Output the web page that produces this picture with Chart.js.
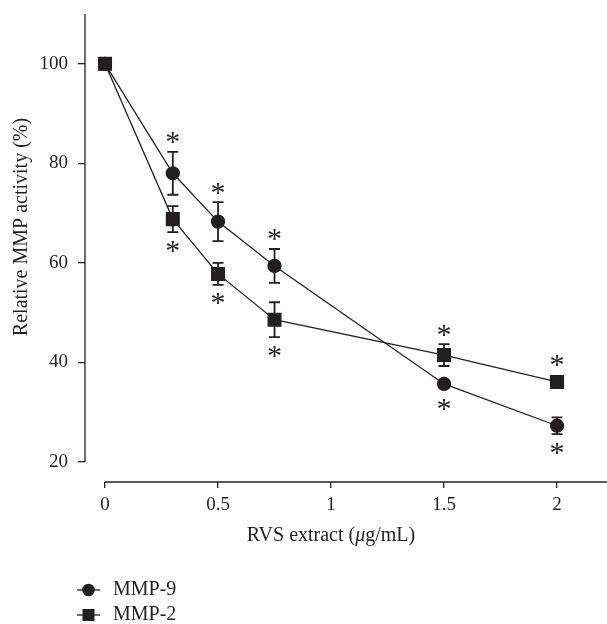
<!DOCTYPE html>
<html>
<head>
<meta charset="utf-8">
<script src="https://cdn.jsdelivr.net/npm/chart.js@4.4.1/dist/chart.umd.min.js"></script>
<style>
  html, body { margin: 0; padding: 0; background: #fff; overflow: hidden; }
  #wrap { width: 607px; height: 624px; position: relative; }
  #wrap canvas { display: block; }
</style>
</head>
<body>
<div id="wrap"><canvas id="mmpChart"></canvas></div>
<script>
const doses = [0, 0.3, 0.5, 0.75, 1.5, 2];
const xTicks = [0, 0.5, 1, 1.5, 2];
const yTicks = [20, 40, 60, 80, 100];

const mmp9 = [100, 78.0, 68.3, 59.4, 35.7, 27.3];
const mmp9Err = [0, 4.3, 3.9, 3.4, 0.6, 1.7];
const mmp9Star = [0, 1, 1, 1, -1, -1];   // 1 = above, -1 = below

const mmp2 = [100, 68.8, 57.8, 48.6, 41.5, 36.1];
const mmp2Err = [0, 2.6, 2.2, 3.5, 2.2, 0.6];
const mmp2Star = [0, -1, -1, -1, 1, 1];

const ink = "#231f20";
const serif = "'Liberation Serif', 'Times New Roman', serif";

function pts(ys) {
  return doses.map((d, i) => ({ x: d, y: ys[i] }));
}

function noPad(s) {
  s.paddingTop = 0; s.paddingBottom = 0; s.paddingLeft = 0; s.paddingRight = 0;
}

const extras = {
  id: "extras",
  afterDraw(chart) {
    const { ctx, chartArea, scales: { x, y } } = chart;
    ctx.save();
    ctx.strokeStyle = ink;
    ctx.fillStyle = ink;

    // axis lines (kept apart like the original)
    ctx.lineWidth = 1.3;
    ctx.beginPath();
    ctx.moveTo(chartArea.left, y.getPixelForValue(110));
    ctx.lineTo(chartArea.left, y.getPixelForValue(20));
    ctx.moveTo(x.getPixelForValue(0), chartArea.bottom);
    ctx.lineTo(chartArea.right, chartArea.bottom);
    ctx.stroke();

    // error bars + asterisks
    const series = [[mmp9, mmp9Err, mmp9Star], [mmp2, mmp2Err, mmp2Star]];
    ctx.font = "30px " + serif;
    ctx.textAlign = "center";
    ctx.textBaseline = "alphabetic";
    const m = ctx.measureText("*");
    const starMid = (m.actualBoundingBoxAscent - m.actualBoundingBoxDescent) / 2;
    series.forEach(([vals, errs, stars]) => {
      vals.forEach((v, i) => {
        const px = x.getPixelForValue(doses[i]);
        const top = y.getPixelForValue(v + errs[i]);
        const bot = y.getPixelForValue(v - errs[i]);
        if (errs[i] > 0) {
          ctx.lineWidth = 1.8;
          ctx.beginPath();
          ctx.moveTo(px, top); ctx.lineTo(px, bot);
          ctx.moveTo(px - 5.5, top); ctx.lineTo(px + 5.5, top);
          ctx.moveTo(px - 5.5, bot); ctx.lineTo(px + 5.5, bot);
          ctx.stroke();
        }
        if (stars[i]) {
          const c = y.getPixelForValue(v);
          let sy;
          if (stars[i] > 0) sy = Math.min(top, c - 7) - 14;
          else sy = Math.max(bot, c + 7) + 14;
          ctx.fillText("*", px, sy + starMid);
        }
      });
    });

    // axis titles
    ctx.font = "20px " + serif;
    ctx.textBaseline = "middle";
    ctx.save();
    ctx.translate(22, 227);
    ctx.rotate(-Math.PI / 2);
    ctx.textAlign = "center";
    ctx.fillText("Relative MMP activity (%)", 0, 0);
    ctx.restore();

    const parts = [["RVS extract (", "normal"], ["\u03bc", "italic"], ["g/mL)", "normal"]];
    let total = 0;
    parts.forEach(p => { ctx.font = p[1] + " 20px " + serif; total += ctx.measureText(p[0]).width; });
    let tx = x.getPixelForValue(1) - total / 2;
    ctx.textAlign = "left";
    parts.forEach(p => {
      ctx.font = p[1] + " 20px " + serif;
      ctx.fillText(p[0], tx, 536);
      tx += ctx.measureText(p[0]).width;
    });

    // legend
    const rows = [["MMP-9", "circle", 590], ["MMP-2", "rect", 615]];
    rows.forEach(([label, shape, ly]) => {
      ctx.lineWidth = 1.3;
      ctx.beginPath();
      ctx.moveTo(77, ly); ctx.lineTo(100, ly);
      ctx.stroke();
      ctx.beginPath();
      if (shape === "circle") ctx.arc(88.5, ly, 6.3, 0, Math.PI * 2);
      else ctx.rect(82.5, ly - 6, 12, 12);
      ctx.fill();
      ctx.font = "20px " + serif;
      ctx.textAlign = "left";
      ctx.fillText(label, 113, ly);
    });
    ctx.restore();
  }
};

new Chart(document.getElementById("mmpChart"), {
  type: "line",
  data: {
    datasets: [
      { label: "MMP-9", data: pts(mmp9), borderColor: ink, backgroundColor: ink,
        borderWidth: 1.3, pointStyle: "circle", pointRadius: 6.5, pointHoverRadius: 6.5, tension: 0 },
      { label: "MMP-2", data: pts(mmp2), borderColor: ink, backgroundColor: ink,
        borderWidth: 1.3, pointStyle: "rect", pointRadius: 9, pointHoverRadius: 9, tension: 0 }
    ]
  },
  options: {
    animation: false,
    responsive: true,
    maintainAspectRatio: false,
    layout: { autoPadding: false, padding: { left: 0, right: 0, top: 14, bottom: 0 } },
    scales: {
      x: {
        type: "linear", min: -0.0885, max: 2.221,
        afterBuildTicks: s => { s.ticks = xTicks.map(v => ({ value: v })); },
        afterFit: s => { s.height = 142; noPad(s); },
        border: { display: false },
        grid: { drawOnChartArea: false, drawTicks: true, tickLength: 6, color: ink, lineWidth: 1.3 },
        ticks: { color: ink, font: { family: serif, size: 19 }, padding: 6, maxRotation: 0,
                 callback: v => String(v) }
      },
      y: {
        min: 16, max: 110,
        afterBuildTicks: s => { s.ticks = yTicks.map(v => ({ value: v })); },
        afterFit: s => { s.width = 85; noPad(s); },
        border: { display: false },
        grid: { drawOnChartArea: false, drawTicks: true, tickLength: 7, color: ink, lineWidth: 1.3 },
        ticks: { color: ink, font: { family: serif, size: 19 }, padding: 10,
                 callback: v => String(v) }
      }
    },
    plugins: { legend: { display: false }, tooltip: { enabled: false } }
  },
  plugins: [extras]
});
</script>
</body>
</html>
